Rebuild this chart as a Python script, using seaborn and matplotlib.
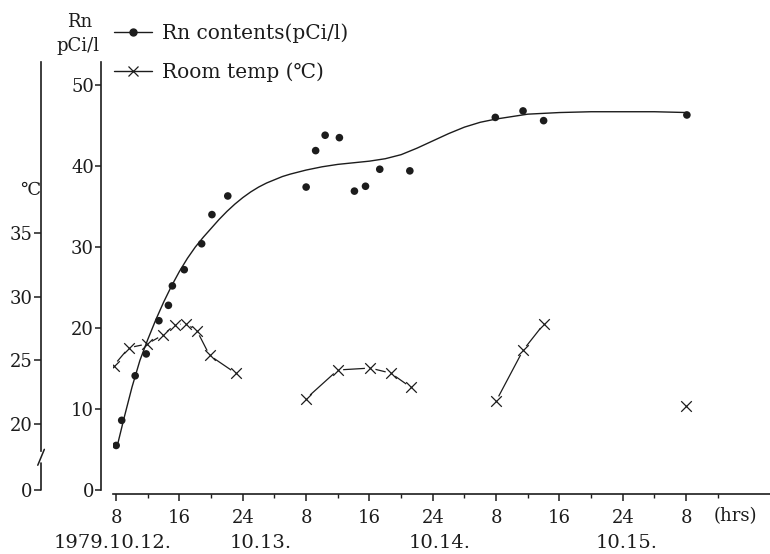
import matplotlib
matplotlib.use("Agg")
import matplotlib.pyplot as plt
import matplotlib.transforms as mtransforms
from matplotlib.lines import Line2D
import pandas as pd
import seaborn as sns

# hours counted from 0:00 on 1979.10.12
rn_hours = [8.0, 8.7, 10.4, 11.8, 13.4, 14.6, 15.1, 16.6, 18.8, 20.1, 22.1,
            32.0, 33.2, 34.4, 36.2, 38.1, 39.5, 41.3, 45.1,
            55.9, 59.4, 62.0, 80.1]
rn_values = [5.5, 8.6, 14.1, 16.8, 20.9, 22.8, 25.2, 27.2, 30.4, 34.0, 36.3,
             37.4, 41.9, 43.8, 43.5, 36.9, 37.5, 39.6, 39.4,
             46.0, 46.8, 45.6, 46.3]

# hand drawn fitted curve for Rn
curve_hours = [8.1, 9, 10, 11, 12, 13, 14, 15, 16, 17, 18, 19, 20, 21, 22, 23,
               24, 25, 26, 27, 28, 29, 30, 32, 34, 36, 38, 40, 42, 44, 46, 48,
               50, 52, 54, 56, 58, 60, 64, 68, 72, 76, 80.1]
curve_values = [5.3, 8.9, 12.7, 16.0, 18.6, 21.0, 23.2, 25.2, 27.0, 28.6, 30.0,
                31.2, 32.3, 33.4, 34.4, 35.3, 36.1, 36.8, 37.4, 37.9, 38.3, 38.7,
                39.0, 39.5, 39.9, 40.2, 40.4, 40.6, 40.9, 41.4, 42.2, 43.1, 44.0,
                44.8, 45.4, 45.8, 46.1, 46.4, 46.6, 46.7, 46.7, 46.7, 46.6]

# room temperature (deg C), runs are separate measuring periods
temp_hours = [7.7, 9.6, 11.9, 13.9, 15.4, 16.8, 18.2, 19.8, 23.1,
              32.0, 36.0, 40.1, 42.7, 45.2,
              56.0, 59.4, 62.0,
              80.0]
temp_values = [24.6, 26.0, 26.3, 27.0, 27.8, 27.9, 27.35, 25.4, 24.0,
               22.0, 24.25, 24.4, 24.0, 22.9,
               21.8, 25.8, 27.85,
               21.4]
temp_runs = [1] * 9 + [2] * 5 + [3] * 3 + [4]

hour_ticks = [8, 16, 24, 32, 40, 48, 56, 64, 72, 80]
hour_labels = ['8', '16', '24', '8', '16', '24', '8', '16', '24', '8']
date_labels = ['1979.10.12.', '10.13.', '10.14.', '10.15.']
date_pos = [7.6, 26.2, 48.9, 72.5]

rn_ticks = [0, 10, 20, 30, 40, 50]
temp_ticks = [14.8, 20, 25, 30, 35]
temp_tick_labels = ['0', '20', '25', '30', '35']

INK = '#1c1c1c'

sns.set_theme(style='ticks')
plt.rcParams['font.family'] = ['DejaVu Serif', 'DejaVu Sans']
plt.rcParams['text.color'] = INK
plt.rcParams['xtick.color'] = INK
plt.rcParams['ytick.color'] = INK

rn_df = pd.DataFrame({'hour': rn_hours, 'rn': rn_values})
curve_df = pd.DataFrame({'hour': curve_hours, 'rn': curve_values})
temp_df = pd.DataFrame({'hour': temp_hours, 'temp': temp_values, 'run': temp_runs})

fig = plt.figure(figsize=(7.7, 5.54), dpi=100)
ax = fig.add_axes([113 / 770, 64 / 554, 657 / 770, 428 / 554])
ax2 = ax.twinx()
ax.set_zorder(ax2.get_zorder() + 1)
ax.patch.set_visible(False)

sns.lineplot(data=curve_df, x='hour', y='rn', ax=ax, color=INK, lw=1.0,
             sort=False, estimator=None)
sns.scatterplot(data=rn_df, x='hour', y='rn', ax=ax, color=INK, s=30,
                edgecolor='none', zorder=4)

sns.lineplot(data=temp_df, x='hour', y='temp', units='run', estimator=None,
             ax=ax2, color=INK, lw=0.9, sort=False)
ax2.scatter(temp_hours, temp_values, s=60, color='white', edgecolor='none', zorder=3)
ax2.scatter(temp_hours, temp_values, s=58, marker='x', color=INK,
            linewidths=0.9, zorder=4)

ax.set_xlim(7.6, 90.6)
ax.set_ylim(0, 52.84)
ax2.set_ylim(14.8, 48.5)

ax.set_xlabel('')
ax.set_ylabel('')
ax2.set_ylabel('')

for side in ['top', 'right']:
    ax.spines[side].set_visible(False)
for side in ['top', 'right', 'bottom']:
    ax2.spines[side].set_visible(False)

ax.spines['left'].set_position(('outward', 8.6))
ax.spines['bottom'].set_position(('outward', 3))
ax.spines['left'].set_linewidth(1.2)
ax.spines['bottom'].set_linewidth(1.2)
ax.spines['left'].set_color(INK)
ax.spines['bottom'].set_color(INK)

ax.set_xticks(hour_ticks)
ax.set_xticklabels(hour_labels)
ax.set_xticks(list(range(12, 88, 8)), minor=True)
ax.tick_params(axis='x', which='major', length=5, width=1.1, pad=6, labelsize=13)
ax.tick_params(axis='x', which='minor', length=3, width=1.0)
ax.set_yticks(rn_ticks)
ax.tick_params(axis='y', length=4, width=1.1, pad=1, labelsize=13)

ax2.yaxis.set_ticks_position('left')
ax2.yaxis.set_label_position('left')
ax2.spines['left'].set_visible(True)
ax2.spines['left'].set_position(('outward', 51.8))
ax2.spines['left'].set_linewidth(1.2)
ax2.spines['left'].set_color(INK)
ax2.spines['left'].set_bounds(17.85, 48.5)
ax2.set_yticks(temp_ticks)
ax2.set_yticklabels(temp_tick_labels)
ax2.tick_params(axis='y', length=5, width=1.1, pad=1, labelsize=13)

# axis break on the temperature axis
brk = mtransforms.offset_copy(ax2.get_yaxis_transform(), fig=fig, x=-51.8, units='points')
ax2.plot([0, 0], [14.8, 16.95], transform=brk, color=INK, lw=1.2, clip_on=False)
ax2.plot([-0.005, 0.005], [16.75, 18.0], transform=brk, color=INK, lw=1.1, clip_on=False)

# extra text
xt = ax.get_xaxis_transform()
ax.text(86.2, -0.061, '(hrs)', transform=xt, ha='center', va='center', fontsize=13)
for pos, lab in zip(date_pos, date_labels):
    ax.text(pos, -0.124, lab, transform=xt, ha='center', va='center', fontsize=14)

fig.text(80 / 770, 1 - 22 / 554, 'Rn', ha='center', va='center', fontsize=13)
fig.text(78 / 770, 1 - 46 / 554, 'pCi/l', ha='center', va='center', fontsize=13)
fig.text(30 / 770, 1 - 190 / 554, '℃', ha='center', va='center', fontsize=13)

handles = [Line2D([], [], color=INK, lw=1.0, marker='o', ms=5),
           Line2D([], [], color=INK, lw=1.0, marker='x', ms=6.5, mew=0.9)]
fig.legend(handles, ['Rn contents(pCi/l)', 'Room temp (℃)'], loc='upper left',
           bbox_to_anchor=(114 / 770, 1 - 23 / 554), frameon=False, fontsize=14.5,
           handlelength=1.9, handletextpad=0.5, labelspacing=1.0,
           borderpad=0, borderaxespad=0)

fig.savefig('out.png', dpi=100)
